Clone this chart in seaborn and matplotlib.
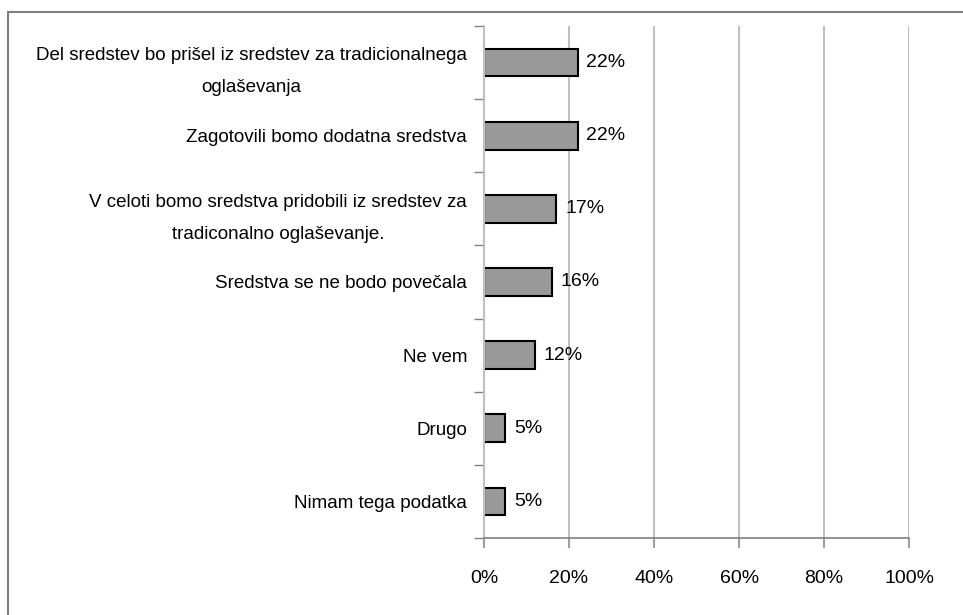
import seaborn as sns
import matplotlib.pyplot as plt
import pandas as pd
from matplotlib.patches import Rectangle
from matplotlib.transforms import ScaledTranslation

categories = [
    "Del sredstev bo prišel iz sredstev za tradicionalnega\noglaševanja",
    "Zagotovili bomo dodatna sredstva",
    "V celoti bomo sredstva pridobili iz sredstev za\ntradiconalno oglaševanje.",
    "Sredstva se ne bodo povečala",
    "Ne vem",
    "Drugo",
    "Nimam tega podatka",
]
values = [22, 22, 17, 16, 12, 5, 5]
xticks = [0, 20, 40, 60, 80, 100]

sns.set_style("white")
plt.rcParams['font.family'] = ['Liberation Sans', 'DejaVu Sans']
plt.rcParams['text.color'] = 'black'
plt.rcParams['xtick.labelcolor'] = 'black'
plt.rcParams['ytick.labelcolor'] = 'black'

df = pd.DataFrame({"kategorija": categories, "delez": values})

fig = plt.figure(figsize=(9.63, 6.15), dpi=100)
ax = fig.add_axes([0.5026, 0.125, 0.4415, 0.833])

sns.barplot(data=df, x="delez", y="kategorija", orient="h", color="#999999",
            edgecolor="black", linewidth=1.5, width=0.38, saturation=1, ax=ax)

for i, v in enumerate(values):
    ax.text(v + 2.1, i, f"{v}%", va="center", ha="left", fontsize=14, color="black")

ax.set_xlim(0, 100)
ax.set_ylim(len(categories) - 0.5, -0.5)
ax.set_xticks(xticks)
ax.set_xticklabels([f"{t}%" for t in xticks], fontsize=14)
ax.set_xlabel("")
ax.set_ylabel("")
ax.set_axisbelow(True)
ax.grid(axis="x", color="#c0c0c0", linewidth=1.5)
ax.grid(axis="y", visible=False)

ax.set_yticks(range(len(categories)))
ax.set_yticklabels(categories, fontsize=13.5, ha="center", linespacing=2.15)
ax.set_yticks([i + 0.5 for i in range(-1, len(categories))], minor=True)
ax.tick_params(axis="y", which="major", left=True, length=0, pad=0, labelcolor="black")
ax.tick_params(axis="y", which="minor", left=True, length=7, color="#808080", width=1)
ax.tick_params(axis="x", bottom=True, length=7, color="#a0a0a0", width=1.5, pad=16, labelcolor="black")

fig.canvas.draw()
# centre the multi-line labels, right edge just left of the axis
renderer = fig.canvas.get_renderer()
for lab in ax.get_yticklabels():
    w = lab.get_window_extent(renderer).width
    lab.set_transform(lab.get_transform() + ScaledTranslation(-(w / 2 + 17) / 100, 0, fig.dpi_scale_trans))

for side in ["top", "right"]:
    ax.spines[side].set_visible(False)
ax.spines["left"].set_color("#c0c0c0")
ax.spines["left"].set_linewidth(1.5)
ax.spines["bottom"].set_color("#808080")
ax.spines["bottom"].set_linewidth(1.2)

fig.patches.append(Rectangle((8 / 963, -0.1), 1.2, 1 - 12 / 615 + 0.1, transform=fig.transFigure,
                             fill=False, edgecolor="#808080", linewidth=1.5))

fig.savefig("out.png", dpi=100)
